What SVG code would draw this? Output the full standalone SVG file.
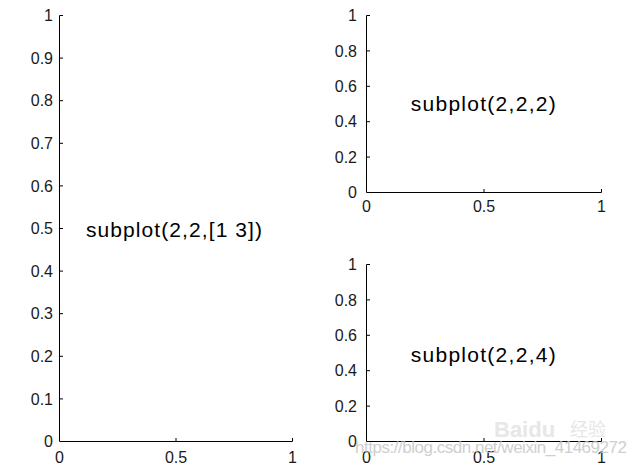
<svg xmlns="http://www.w3.org/2000/svg" width="637" height="470" viewBox="0 0 637 470">
<style>
.ax{stroke:#000;stroke-width:1;fill:none}
.tk{font-family:"Liberation Sans",Arial,sans-serif;font-size:16px;fill:#1a1a1a}
.yl{text-anchor:end}
.xl{text-anchor:middle}
.big{font-family:"Liberation Sans",Arial,sans-serif;font-size:21px;fill:#000}
.wm{font-family:"Liberation Sans",Arial,sans-serif;font-size:17px;fill:#c4c4c4}
</style>
<rect width="637" height="470" fill="#fff"/>
<g id="axes-left">
<path class="ax" d="M59.5 15.5V441.5H292.5M59.5 398.9h3.5M59.5 356.3h3.5M59.5 313.7h3.5M59.5 271.1h3.5M59.5 228.5h3.5M59.5 185.9h3.5M59.5 143.3h3.5M59.5 100.7h3.5M59.5 58.1h3.5M59.5 15.5h3.5M176 441.5v-3.5M292.5 441.5v-3.5"/>
<text class="tk yl" x="53" y="447">0</text>
<text class="tk yl" x="53" y="404.6">0.1</text>
<text class="tk yl" x="53" y="362">0.2</text>
<text class="tk yl" x="53" y="319.4">0.3</text>
<text class="tk yl" x="53" y="276.8">0.4</text>
<text class="tk yl" x="53" y="234.2">0.5</text>
<text class="tk yl" x="53" y="191.6">0.6</text>
<text class="tk yl" x="53" y="149">0.7</text>
<text class="tk yl" x="53" y="106.4">0.8</text>
<text class="tk yl" x="53" y="63.8">0.9</text>
<text class="tk yl" x="53" y="21">1</text>
<text class="tk xl" x="59.5" y="463">0</text>
<text class="tk xl" x="176" y="463">0.5</text>
<text class="tk xl" x="292.5" y="463">1</text>
<text class="big" x="86" y="237" textLength="176" lengthAdjust="spacing">subplot(2,2,[1 3])</text>
</g>
<g id="axes-top-right">
<path class="ax" d="M366.5 15.5V192.5H601.5M366.5 157.1h3.5M366.5 121.7h3.5M366.5 86.3h3.5M366.5 50.9h3.5M366.5 15.5h3.5M484 192.5v-3.5M601.5 192.5v-3.5"/>
<text class="tk yl" x="357" y="198">0</text>
<text class="tk yl" x="357" y="162.8">0.2</text>
<text class="tk yl" x="357" y="127.4">0.4</text>
<text class="tk yl" x="357" y="92">0.6</text>
<text class="tk yl" x="357" y="56.6">0.8</text>
<text class="tk yl" x="357" y="21">1</text>
<text class="tk xl" x="366.5" y="212">0</text>
<text class="tk xl" x="484" y="212">0.5</text>
<text class="tk xl" x="601.5" y="212">1</text>
<text class="big" x="410.7" y="111" textLength="145" lengthAdjust="spacing">subplot(2,2,2)</text>
</g>
<g id="axes-bottom-right">
<path class="ax" d="M366.5 264.5V441.5H601.5M366.5 406.1h3.5M366.5 370.7h3.5M366.5 335.3h3.5M366.5 299.9h3.5M366.5 264.5h3.5M484 441.5v-3.5M601.5 441.5v-3.5"/>
<text class="tk yl" x="357" y="447">0</text>
<text class="tk yl" x="357" y="411.8">0.2</text>
<text class="tk yl" x="357" y="376.4">0.4</text>
<text class="tk yl" x="357" y="341">0.6</text>
<text class="tk yl" x="357" y="305.6">0.8</text>
<text class="tk yl" x="357" y="270">1</text>
<text class="tk xl" x="366.5" y="463">0</text>
<text class="tk xl" x="484" y="463">0.5</text>
<text class="tk xl" x="601.5" y="463">1</text>
<text class="big" x="410.7" y="361.5" textLength="145" lengthAdjust="spacing">subplot(2,2,4)</text>
</g>
<g id="watermark" opacity="0.8">
<text x="494" y="437" font-family="'Liberation Sans',Arial,'Noto Sans CJK SC',sans-serif" font-size="22" font-weight="bold" fill="#e2e2e2">Baidu</text>
<text x="570" y="436" font-family="'Noto Sans CJK SC',sans-serif" font-size="18" fill="#e2e2e2">经验</text>
<text class="wm" x="355" y="453" textLength="272" lengthAdjust="spacing">https://blog.csdn.net/weixin_41469272</text>
</g>
</svg>
